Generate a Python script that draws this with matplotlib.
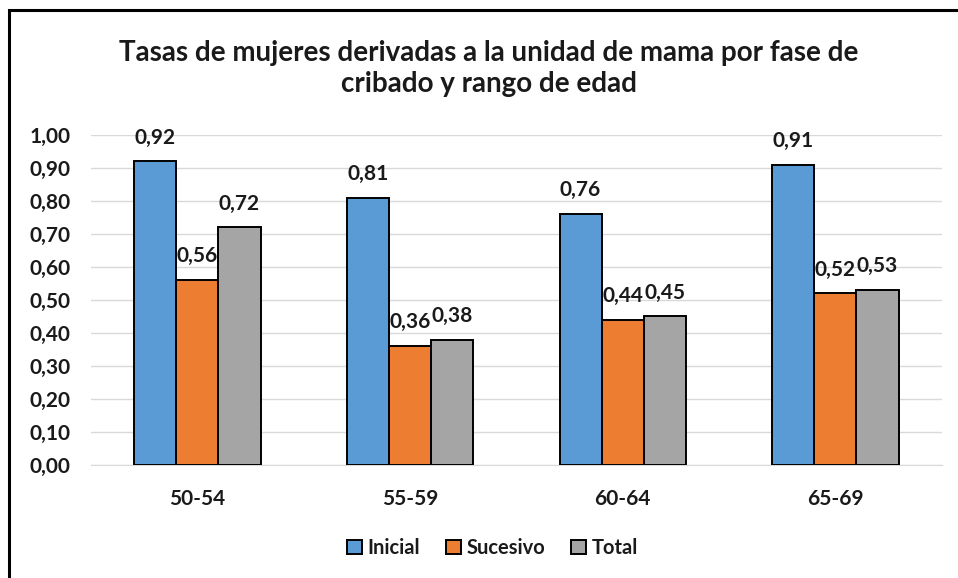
import numpy as np
import matplotlib.pyplot as plt
from matplotlib.patches import Rectangle

# datos
edades = ['50-54', '55-59', '60-64', '65-69']
inicial = [0.92, 0.81, 0.76, 0.91]
sucesivo = [0.56, 0.36, 0.44, 0.52]
total = [0.72, 0.38, 0.45, 0.53]
series = ['Inicial', 'Sucesivo', 'Total']
colores = ['#5B9BD5', '#ED7D31', '#A5A5A5']

plt.rcParams['font.family'] = ['Lato', 'DejaVu Sans']
plt.rcParams['font.weight'] = 'bold'

fig = plt.figure(figsize=(9.58, 5.78), dpi=100)
ax = fig.add_axes([0.095, 0.1955, 0.888, 0.571])

# marco exterior
fig.patches.append(Rectangle((9 / 958, -0.1), 1.2, 1.1 - 10 / 578, transform=fig.transFigure,
                             fill=False, edgecolor='black', linewidth=2.2))

x = np.arange(len(edades))
ancho = 0.198
for i, (vals, nombre, col) in enumerate(zip([inicial, sucesivo, total], series, colores)):
    pos = x + (i - 1) * ancho
    ax.bar(pos, vals, ancho, color=col, edgecolor='black', linewidth=1.4, label=nombre, zorder=3)
    for px, v in zip(pos, vals):
        ax.annotate(f'{v:.2f}'.replace('.', ','), (px, v), xytext=(0, 10), textcoords='offset points',
                    ha='center', va='bottom', fontsize=15, fontweight='bold', color='#1a1a1a')

ax.set_ylim(0, 1.0)
ax.set_xlim(-0.5, len(edades) - 0.5)
ax.set_yticks(np.arange(0, 1.01, 0.1))
ax.set_yticklabels([f'{t:.2f}'.replace('.', ',') for t in np.arange(0, 1.01, 0.1)])
ax.set_xticks(x)
ax.set_xticklabels(edades)
ax.tick_params(axis='both', length=0, labelsize=15, colors='#1a1a1a')
ax.tick_params(axis='x', pad=17)
ax.tick_params(axis='y', pad=15)
ax.yaxis.grid(True, color='#d9d9d9', linewidth=1, zorder=0)
for s in ['top', 'right', 'left']:
    ax.spines[s].set_visible(False)
ax.spines['bottom'].set_color('#d9d9d9')

fig.text(0.51, 0.881, 'Tasas de mujeres derivadas a la unidad de mama por fase de\ncribado y rango de edad',
         ha='center', va='center', fontsize=20, fontweight='bold', color='#1a1a1a', linespacing=1.25)

leg = fig.legend(loc='center', bbox_to_anchor=(0.514, 0.052), ncol=3, frameon=False,
                 fontsize=14.5, handlelength=0.75, handleheight=0.75, handletextpad=0.25, columnspacing=1.3)
for p in leg.get_patches():
    p.set_linewidth(1.4)
for t in leg.get_texts():
    t.set_color('#1a1a1a')

fig.savefig('out.png', dpi=100)
